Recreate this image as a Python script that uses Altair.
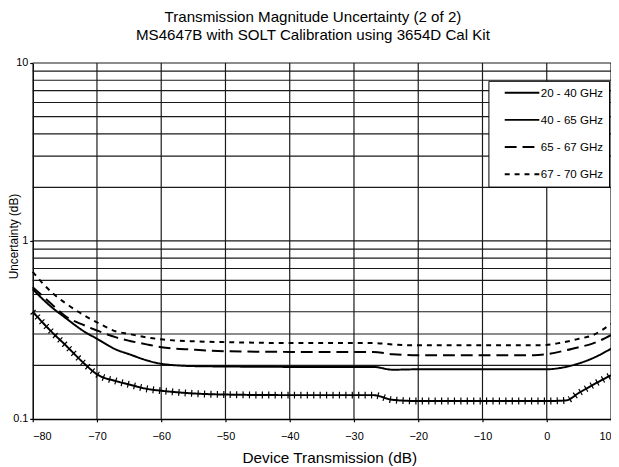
import altair as alt
import pandas as pd

FONT = "Liberation Sans"

series_names = ["20 - 40 GHz", "40 - 65 GHz", "65 - 67 GHz", "67 - 70 GHz"]

# 20 - 40 GHz (solid with cross ticks)
x_s1 = [-80, -77, -75, -72, -70, -67, -65, -62, -60, -55, -50, -40, -30, -27, -24, -20, -10, 0, 3, 5, 7, 10]
y_s1 = [0.40, 0.307, 0.262, 0.205, 0.178, 0.163, 0.156, 0.147, 0.144, 0.139, 0.137, 0.136, 0.136, 0.136,
        0.128, 0.126, 0.126, 0.126, 0.127, 0.140, 0.154, 0.176]

# 40 - 65 GHz (solid)
x_s2 = [-80, -77, -75, -72, -70, -67, -65, -62, -60, -55, -50, -40, -30, -27, -24, -20, -10, 0, 2, 5, 7, 10]
y_s2 = [0.535, 0.423, 0.372, 0.310, 0.282, 0.245, 0.231, 0.212, 0.204, 0.198, 0.197, 0.196, 0.196, 0.196,
        0.189, 0.190, 0.190, 0.190, 0.193, 0.205, 0.218, 0.248]

# 65 - 67 GHz (long dash)
x_s3 = [-80, -77, -75, -72, -70, -67, -65, -62, -60, -55, -50, -40, -30, -27, -24, -20, -10, -2, 0, 3, 5, 7, 10]
y_s3 = [0.55, 0.44, 0.38, 0.336, 0.314, 0.287, 0.275, 0.261, 0.253, 0.245, 0.240, 0.238, 0.238, 0.238,
        0.231, 0.228, 0.228, 0.228, 0.231, 0.243, 0.253, 0.264, 0.296]

# 67 - 70 GHz (dotted)
x_s4 = [-80, -77, -75, -72, -70, -67, -65, -62, -60, -55, -50, -40, -30, -27, -24, -20, -10, -1, 2, 5, 7, 10]
y_s4 = [0.67, 0.512, 0.45, 0.382, 0.349, 0.310, 0.300, 0.286, 0.280, 0.273, 0.270, 0.267, 0.267, 0.267,
        0.262, 0.259, 0.259, 0.259, 0.267, 0.282, 0.294, 0.342]

x_ticks = [-80, -70, -60, -50, -40, -30, -20, -10, 0, 10]
x_grid = [-70, -60, -50, -40, -30, -20, -10, 0, 10]
y_labels = [0.1, 1, 10]
y_grid = [0.2, 0.3, 0.4, 0.5, 0.6, 0.7, 0.8, 0.9, 1, 2, 3, 4, 5, 6, 7, 8, 9, 10]

rows = []
for name, xs, ys in zip(series_names, [x_s1, x_s2, x_s3, x_s4], [y_s1, y_s2, y_s3, y_s4]):
    for xv, yv in zip(xs, ys):
        rows.append({"series": name, "x": xv, "y": yv})
df = pd.DataFrame(rows)

xscale = alt.Scale(domain=[-80, 10], nice=False, zero=False)
yscale = alt.Scale(type="log", domain=[0.1, 10], nice=False)

xaxis = alt.Axis(values=x_ticks, title="Device Transmission (dB)", labelFontSize=11,
                 tickSize=3, labelPadding=9, titleFontSize=15.5, titleBaseline="alphabetic",
                 titleX=300, titleY=44, titleAnchor="middle")
yaxis = alt.Axis(values=y_labels, format="~g", title="Uncertainty (dB)", labelFontSize=11,
                 tickSize=3, labelPadding=2, titleFontSize=12, titleBaseline="alphabetic",
                 titleX=-15, titleY=175)

hgrid = alt.Chart(pd.DataFrame({"v": y_grid})).mark_rule(color="#1a1a1a", strokeWidth=1.2).encode(
    y=alt.Y("v:Q", scale=yscale, axis=yaxis)
)
vgrid = alt.Chart(pd.DataFrame({"v": x_grid})).mark_rule(color="#1a1a1a", strokeWidth=1.2).encode(
    x=alt.X("v:Q", scale=xscale, axis=xaxis)
)

lines = alt.Chart(df).mark_line(interpolate="monotone", color="black").encode(
    x=alt.X("x:Q", scale=xscale, axis=xaxis),
    y=alt.Y("y:Q", scale=yscale, axis=yaxis),
    strokeDash=alt.StrokeDash(
        "series:N",
        scale=alt.Scale(domain=series_names, range=[[1, 0], [1, 0], [12, 6], [5, 5]]),
        legend=alt.Legend(title=None, orient="none", legendX=461, legendY=18,
                          symbolType="M-3,0H3", symbolSize=136, symbolStrokeWidth=2.5,
                          symbolStrokeColor="black", labelFont=FONT, labelFontSize=11.7,
                          labelColor="black", padding=5, rowPadding=13.5, symbolOffset=22,
                          labelOffset=12, strokeColor="black", fillColor="white"),
    ),
    strokeWidth=alt.StrokeWidth(
        "series:N", scale=alt.Scale(domain=series_names, range=[2, 2, 2.7, 2.7]), legend=None
    ),
)

plus = alt.Chart(df).transform_filter(alt.datum.series == series_names[0]).mark_line(
    interpolate="monotone", color="black", strokeWidth=7, strokeDash=[1.2, 5.3], strokeCap="butt"
).encode(
    x=alt.X("x:Q", scale=xscale, axis=xaxis),
    y=alt.Y("y:Q", scale=yscale, axis=yaxis),
)

chart = alt.layer(hgrid, vgrid, lines, plus).properties(
    width=585,
    height=360,
    autosize=alt.AutoSizeParams(type="none"),
    padding={"left": 25, "top": 53, "right": 0, "bottom": 46},
    title=alt.TitleParams(
        text=["Transmission Magnitude Uncertainty (2 of 2)",
              "MS4647B with SOLT Calibration using 3654D Cal Kit"],
        fontSize=15.3, font=FONT, fontWeight="normal", color="black", lineHeight=18,
        offset=14, dx=-9, anchor="middle",
    ),
).configure_view(stroke=None).configure_axis(
    grid=False, domainColor="black", domainWidth=1.5, tickColor="black", tickWidth=1.2,
    labelColor="black", titleColor="black", labelFont=FONT, titleFont=FONT, titleFontWeight="normal",
)

chart.save("out.html", embed_options={"renderer": "svg", "actions": False})
